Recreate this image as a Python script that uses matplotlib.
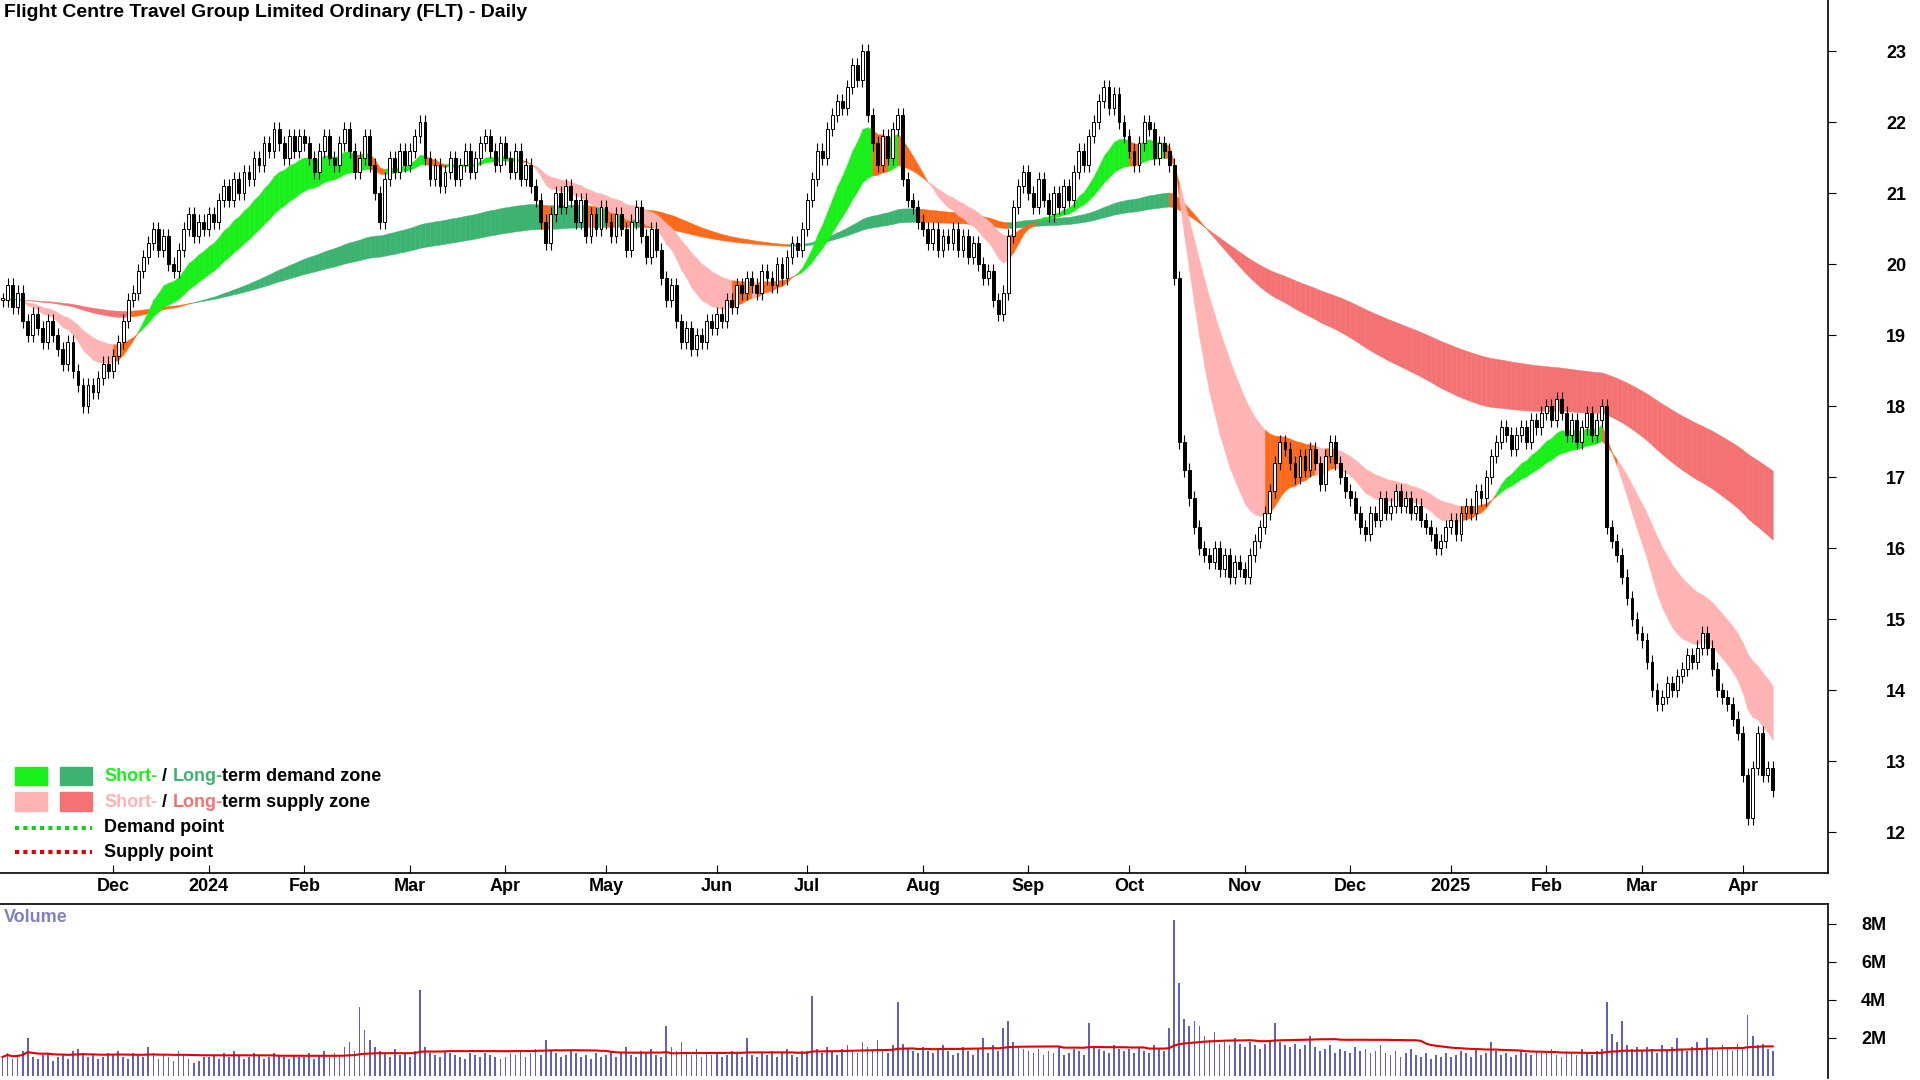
import matplotlib
matplotlib.use("Agg")
import matplotlib.pyplot as plt
import numpy as np
import pandas as pd
from matplotlib.patches import Rectangle

plt.rcParams["font.family"] = ["Liberation Sans", "DejaVu Sans"]

TITLE = "Flight Centre Travel Group Limited Ordinary (FLT) - Daily"

# daily closes per month
MONTHS = ["2023-11", "2023-12", "2024-01", "2024-02", "2024-03", "2024-04", "2024-05", "2024-06",
          "2024-07", "2024-08", "2024-09", "2024-10", "2024-11", "2024-12", "2025-01", "2025-02",
          "2025-03", "2025-04"]
closes = [
    [19.5, 19.7, 19.4, 19.6, 19.2, 19.0, 19.3, 19.1, 18.9, 19.2, 19.0, 18.8, 18.6, 18.9, 18.5, 18.3, 18.0, 18.3, 18.2, 18.4, 18.6, 18.5],
    [18.7, 18.9, 19.2, 19.5, 19.6, 19.9, 20.1, 20.3, 20.5, 20.2, 20.4, 20.0, 19.9, 20.2, 20.5, 20.7, 20.4, 20.6, 20.5],
    [20.7, 20.6, 20.9, 21.1, 20.9, 21.2, 21.0, 21.3, 21.2, 21.5, 21.4, 21.7, 21.6, 21.9, 21.7, 21.5, 21.8, 21.6, 21.8],
    [21.7, 21.5, 21.3, 21.6, 21.8, 21.5, 21.4, 21.7, 21.9, 21.6, 21.3, 21.5, 21.8, 21.4, 21.0, 20.6, 21.2, 21.5, 21.3, 21.6, 21.4],
    [21.6, 21.8, 22.0, 21.5, 21.2, 21.4, 21.1, 21.3, 21.5, 21.2, 21.4, 21.6, 21.3, 21.5, 21.7, 21.8, 21.6, 21.4, 21.7],
    [21.5, 21.3, 21.6, 21.2, 21.4, 21.1, 20.9, 20.6, 20.3, 20.7, 21.0, 20.8, 21.1, 20.9, 20.6, 20.9, 20.4, 20.7, 20.5, 20.8],
    [20.6, 20.4, 20.7, 20.5, 20.2, 20.6, 20.8, 20.4, 20.1, 20.5, 20.2, 19.8, 19.5, 19.7, 19.2, 18.9, 19.1, 18.8, 19.0, 18.9, 19.2, 19.1],
    [19.3, 19.2, 19.5, 19.4, 19.7, 19.6, 19.8, 19.7, 19.6, 19.9, 19.8, 19.7, 20.0, 19.8, 20.1, 20.3, 20.2, 20.5],
    [20.9, 21.2, 21.6, 21.5, 21.9, 22.1, 22.3, 22.2, 22.5, 22.8, 22.6, 23.0, 22.1, 21.7, 21.4, 21.8, 21.5, 21.9, 22.1, 21.2, 20.9, 20.8, 20.6],
    [20.5, 20.3, 20.5, 20.2, 20.4, 20.3, 20.5, 20.2, 20.4, 20.1, 20.3, 20.0, 19.8, 19.9, 19.5, 19.3, 19.6, 20.4, 20.8, 21.1, 21.3],
    [21.0, 20.8, 21.2, 20.9, 20.7, 21.0, 20.8, 21.1, 20.9, 21.3, 21.6, 21.4, 21.8, 22.0, 22.3, 22.5, 22.2, 22.4, 22.0, 21.8],
    [21.6, 21.4, 21.7, 22.0, 21.9, 21.5, 21.7, 21.6, 21.4, 19.8, 17.5, 17.1, 16.7, 16.3, 16.0, 15.9, 15.8, 16.0, 15.7, 15.9, 15.6, 15.8, 15.7],
    [15.6, 15.9, 16.1, 16.3, 16.5, 16.8, 17.2, 17.5, 17.4, 17.2, 17.0, 17.3, 17.1, 17.4, 17.2, 16.9, 17.3, 17.5, 17.2, 17.0, 16.8],
    [16.7, 16.5, 16.3, 16.2, 16.5, 16.4, 16.7, 16.5, 16.6, 16.8, 16.6, 16.7, 16.5, 16.6, 16.4, 16.3, 16.2, 16.0, 16.1, 16.3],
    [16.4, 16.2, 16.5, 16.6, 16.5, 16.8, 16.7, 17.0, 17.3, 17.5, 17.7, 17.6, 17.4, 17.6, 17.7, 17.5, 17.8, 17.7, 17.9],
    [18.0, 17.8, 18.1, 17.9, 17.6, 17.8, 17.5, 17.7, 17.9, 17.6, 17.8, 18.0, 16.3, 16.1, 15.9, 15.6, 15.3, 15.0, 14.8],
    [14.7, 14.4, 14.0, 13.8, 13.9, 14.1, 14.0, 14.2, 14.3, 14.5, 14.4, 14.6, 14.8, 14.6, 14.3, 14.0, 13.9, 13.8, 13.6, 13.4],
    [12.8, 12.2, 12.9, 13.4, 12.8, 12.9, 12.6],
]
# daily volume in millions
volumes = [
    [1.0, 1.2, 0.9, 1.1, 1.3, 2.0, 1.0, 0.9, 1.1, 1.2, 0.8, 1.0, 1.1, 0.9, 1.3, 1.4, 1.2, 1.0, 1.1, 0.9, 1.0, 1.2],
    [1.1, 1.3, 1.0, 0.9, 1.2, 1.1, 1.0, 1.5, 1.2, 0.9, 1.1, 1.0, 0.8, 1.3, 1.1, 0.9, 0.7, 0.8, 1.0],
    [1.0, 1.1, 0.9, 1.2, 1.0, 1.3, 1.1, 0.9, 1.0, 1.2, 1.1, 0.9, 1.0, 1.2, 1.1, 1.0, 0.9, 1.1, 1.0],
    [1.0, 1.2, 0.9, 1.1, 1.3, 1.0, 1.2, 1.1, 1.5, 1.8, 1.3, 3.6, 2.4, 1.9, 1.5, 1.3, 1.2, 1.0, 1.4, 1.1, 1.2],
    [1.0, 1.3, 4.5, 1.5, 1.2, 1.1, 1.0, 1.3, 1.2, 1.1, 1.0, 0.9, 1.2, 1.1, 1.0, 1.2, 1.1, 1.0, 0.9],
    [1.0, 1.2, 1.1, 1.3, 1.0, 1.2, 1.4, 1.1, 1.9, 1.3, 1.2, 1.0, 1.1, 1.3, 1.2, 1.0, 1.1, 0.9, 1.2, 1.0],
    [1.1, 1.3, 1.0, 1.2, 1.5, 1.1, 1.0, 1.3, 1.2, 1.4, 1.1, 1.0, 2.6, 1.5, 1.3, 1.8, 1.2, 1.1, 1.4, 1.0, 1.2, 1.1],
    [1.2, 1.0, 1.1, 1.3, 1.2, 1.0, 2.0, 1.1, 1.0, 1.2, 1.1, 1.3, 1.0, 1.2, 1.4, 1.1, 1.0, 1.3],
    [1.3, 4.2, 1.4, 1.2, 1.5, 1.3, 1.1, 1.4, 1.6, 1.3, 1.2, 1.8, 1.5, 1.3, 1.9, 1.4, 1.2, 1.6, 3.9, 1.7, 1.4, 1.3, 1.2],
    [1.5, 1.3, 1.2, 1.4, 1.6, 1.3, 1.1, 1.2, 1.5, 1.3, 1.1, 1.4, 2.0, 1.2, 1.6, 1.3, 2.5, 2.9, 1.8, 1.5, 1.4],
    [1.3, 1.2, 1.4, 1.1, 1.3, 1.2, 1.5, 1.1, 1.2, 1.4, 1.3, 1.1, 2.8, 1.5, 1.4, 1.3, 1.2, 1.6, 1.4, 1.3],
    [1.4, 1.2, 1.5, 1.3, 1.2, 1.6, 1.4, 1.3, 2.5, 8.2, 4.9, 3.0, 2.6, 2.9, 2.6, 2.1, 1.9, 2.3, 1.7, 1.8, 1.6, 2.0, 1.7],
    [1.5, 1.8, 1.6, 1.4, 1.7, 1.9, 2.8, 1.8, 1.6, 1.5, 1.7, 1.4, 1.6, 2.1, 1.5, 1.3, 1.4, 1.6, 1.2, 1.4, 1.3],
    [1.2, 1.5, 1.3, 1.4, 1.2, 1.3, 1.6, 1.2, 1.1, 1.3, 1.0, 1.2, 1.4, 1.1, 1.0, 1.2, 0.9, 1.1, 1.0, 1.2],
    [1.0, 1.1, 1.3, 1.2, 1.0, 1.4, 1.1, 1.2, 1.8, 1.3, 1.1, 1.2, 1.0, 1.1, 1.3, 1.2, 1.1, 1.3, 1.2],
    [1.2, 1.4, 1.1, 1.0, 1.3, 1.2, 1.1, 1.4, 1.2, 1.1, 1.3, 1.4, 3.9, 2.2, 1.8, 2.9, 1.6, 1.4, 1.5],
    [1.3, 1.5, 1.4, 1.2, 1.6, 1.3, 1.5, 2.0, 1.4, 1.3, 1.5, 1.8, 1.4, 2.0, 1.5, 1.3, 1.6, 1.4, 1.3, 1.7],
    [1.5, 3.2, 2.1, 1.6, 1.7, 1.4, 1.3],
]
MONTH_LABELS = ["", "Dec", "2024", "Feb", "Mar", "Apr", "May", "Jun", "Jul", "Aug", "Sep", "Oct",
                "Nov", "Dec", "2025", "Feb", "Mar", "Apr"]
PRICE_TICKS = [12, 13, 14, 15, 16, 17, 18, 19, 20, 21, 22, 23]
VOL_TICKS = [2, 4, 6, 8]

C_SHORT_UP = "#19f019"
C_LONG_UP = "#3cb371"
C_SHORT_DN = "#ffb3b3"
C_LONG_DN = "#f47272"
C_NEUTRAL = "#ff6a1a"

close = np.concatenate([np.array(m) for m in closes])
vol = np.concatenate([np.array(v) for v in volumes])
n = len(close)
x = np.arange(n)
month_start = np.cumsum([0] + [len(m) for m in closes])[:-1]

s = pd.Series(close)
short_f = s.ewm(span=14, adjust=False).mean().values
short_s = s.ewm(span=30, adjust=False).mean().values
long_f = s.ewm(span=110, adjust=False).mean().values
long_s = s.ewm(span=180, adjust=False).mean().values


def draw_band(ax, a, b, up, dn, thr):
    d = a - b
    slope = np.gradient(a)
    for i in range(n - 1):
        if d[i] > 0 and slope[i] > -thr:
            c = up
        elif d[i] < 0 and slope[i] < thr:
            c = dn
        else:
            c = C_NEUTRAL
        ax.fill_between(x[i:i + 2], a[i:i + 2], b[i:i + 2], color=c, lw=0.3, edgecolor=c)


fig = plt.figure(figsize=(19.2, 10.8), dpi=100)
ax = fig.add_axes([0.0, 0.192, 0.952, 0.808])
axv = fig.add_axes([0.0, 0.002, 0.952, 0.161])

draw_band(ax, long_f, long_s, C_LONG_UP, C_LONG_DN, 0.004)
draw_band(ax, short_f, short_s, C_SHORT_UP, C_SHORT_DN, 0.02)

# candles
opens = np.concatenate([[close[0]], close[:-1]])
hi = np.maximum(opens, close) + 0.1
lo = np.minimum(opens, close) - 0.1
ax.vlines(x, lo, hi, color="black", lw=0.8, zorder=3)
for i in range(n):
    bot = min(opens[i], close[i])
    h = max(abs(close[i] - opens[i]), 0.02)
    fc = "white" if close[i] >= opens[i] else "black"
    ax.add_patch(Rectangle((x[i] - 0.28, bot), 0.56, h, facecolor=fc, edgecolor="black", lw=0.7, zorder=4))

xmax = (n - 0.5) * 1493 / 1450
for a in (ax, axv):
    a.set_xlim(-0.5, xmax)
    for sp in ("top", "left"):
        a.spines[sp].set_visible(False)
    a.spines["right"].set_linewidth(1.2)
    a.spines["bottom"].set_linewidth(1.2)
    a.yaxis.tick_right()

ax.set_ylim(11.43, 23.72)
ax.set_yticks(PRICE_TICKS)
ax.set_yticklabels([str(t) for t in PRICE_TICKS], fontsize=13, fontweight="bold")
ax.set_xticks(month_start[1:])
ax.set_xticklabels(MONTH_LABELS[1:], fontsize=13, fontweight="bold")
ax.tick_params(axis="x", length=6, direction="in", pad=4)
ax.tick_params(axis="y", length=6, pad=36)
ax.text(0.002, 0.995, TITLE, transform=ax.transAxes, fontsize=14, fontweight="bold", va="top")

axv.bar(x, vol, width=0.35, color="#6060c0")
axv.plot(x, pd.Series(vol).rolling(50, min_periods=1).mean().values, color="#e00000", lw=1.5)
axv.set_ylim(-0.1, 9.03)
axv.set_yticks(VOL_TICKS)
axv.set_yticklabels([f"{t}M" for t in VOL_TICKS], fontsize=13, fontweight="bold")
axv.tick_params(axis="y", length=6, pad=18)
axv.set_xticks(month_start[1:])
axv.set_xticklabels([])
axv.tick_params(axis="x", length=0)
axv.spines["bottom"].set_visible(False)
axv.spines["top"].set_visible(True)
axv.spines["top"].set_linewidth(1.2)
axv.text(0.002, 0.97, "Volume", transform=axv.transAxes, fontsize=13, fontweight="bold",
         color="#8080c8", va="top")

# legend
fx = 1 / 1568
fy = 1 / 882
for row, (c1, c2) in enumerate([(C_SHORT_UP, C_LONG_UP), (C_SHORT_DN, C_LONG_DN)]):
    yb = 1 - (641 + row * 21) * fy
    fig.add_artist(Rectangle((12 * fx, yb), 26 * fx, 15 * fy, color=c1, transform=fig.transFigure))
    fig.add_artist(Rectangle((49 * fx, yb), 26 * fx, 15 * fy, color=c2, transform=fig.transFigure))
legend_rows = [
    [("Short-", C_SHORT_UP), (" / ", "black"), ("Long-", C_LONG_UP), ("term demand zone", "black")],
    [("Short-", C_SHORT_DN), (" / ", "black"), ("Long-", C_LONG_DN), ("term supply zone", "black")],
]
fig.canvas.draw()
r = fig.canvas.get_renderer()
for row, parts in enumerate(legend_rows):
    xt = 85 * fx
    yt = 1 - (634 + row * 21) * fy
    for txt, c in parts:
        t = fig.text(xt, yt, txt, color=c, fontsize=13, fontweight="bold", va="center")
        xt += t.get_window_extent(r).width / fig.bbox.width
for row, (c, lab) in enumerate([("#19d019", "Demand point"), ("#e00000", "Supply point")]):
    yl = 1 - (676 + row * 20) * fy
    fig.add_artist(plt.Line2D([12 * fx, 75 * fx], [yl, yl], color=c, lw=3, ls=(0, (1, 1)),
                              transform=fig.transFigure))
    fig.text(85 * fx, yl, lab, fontsize=13, fontweight="bold", va="center")

fig.savefig("out.png", dpi=100)
